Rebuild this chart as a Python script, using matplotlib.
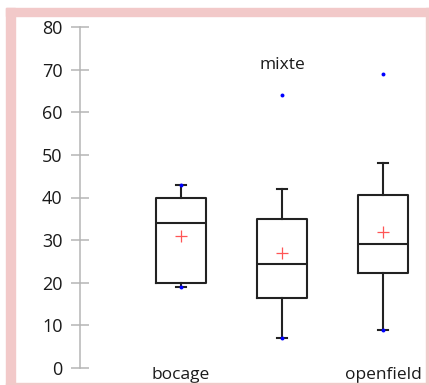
import matplotlib
matplotlib.use("Agg")
import matplotlib.pyplot as plt
from matplotlib.patches import Rectangle

plt.rcParams['font.family'] = ['Open Sans', 'DejaVu Sans']

# data
groups = ['bocage', 'mixte', 'openfield']
q1 = [20, 16.5, 22.3]
med = [34, 24.5, 29]
q3 = [40, 35, 40.5]
whislo = [19, 7, 9]
whishi = [43, 42, 48]
means = [31, 27, 32]
mins = [19, 7, 9]
maxs = [43, 64, 69]
label_y = [-1.7, 71.2, -1.7]

fig = plt.figure(figsize=(4.29, 3.85), dpi=100)
ax = fig.add_axes([80 / 429, 17 / 385, 349 / 429, 341 / 385])

stats = []
for i in range(len(groups)):
    stats.append(dict(label=groups[i], q1=q1[i], med=med[i], q3=q3[i],
                      whislo=whislo[i], whishi=whishi[i], fliers=[]))

pos = [1, 2, 3]
lc = '#222222'
ax.bxp(stats, positions=pos, widths=0.5, capwidths=0.09, showfliers=False,
       boxprops=dict(color=lc, linewidth=1.5),
       whiskerprops=dict(color=lc, linewidth=1.5),
       capprops=dict(color=lc, linewidth=1.5),
       medianprops=dict(color=lc, linewidth=1.5))

# min / max points in blue, means as red crosses
ax.scatter(pos, mins, s=8, color='#0000ff', zorder=4, linewidths=0)
ax.scatter(pos, maxs, s=8, color='#0000ff', zorder=4, linewidths=0)
ax.scatter(pos, means, marker='+', s=80, color='#ff5555', linewidths=0.9, zorder=4)

for i, g in enumerate(groups):
    ax.text(pos[i], label_y[i], g, ha='center', va='center', fontsize=12.5,
            color='#1a1a1a', clip_on=False)

ax.set_xlim(0, 3.455)
ax.set_ylim(0, 80)
ax.set_yticks(range(0, 81, 10))
ax.set_xticks([])
for s in ['top', 'right', 'bottom']:
    ax.spines[s].set_visible(False)
ax.spines['left'].set_color('#b5b5b5')
ax.spines['left'].set_linewidth(1.1)
ax.tick_params(axis='y', direction='inout', length=13, width=1.1, color='#b5b5b5',
               labelsize=13, labelcolor='#1a1a1a', pad=6)

# pink frame around the picture
pink = '#f2c9c9'
fig.patches.append(Rectangle((6 / 429, 369 / 385), 423 / 429, 8 / 385,
                             transform=fig.transFigure, color=pink, zorder=0))
fig.patches.append(Rectangle((6 / 429, 0), 9 / 429, 377 / 385,
                             transform=fig.transFigure, color=pink, zorder=0))
fig.patches.append(Rectangle((426 / 429, 0), 3 / 429, 377 / 385,
                             transform=fig.transFigure, color=pink, zorder=0))
fig.patches.append(Rectangle((6 / 429, 0), 423 / 429, 2 / 385,
                             transform=fig.transFigure, color=pink, zorder=0))

fig.savefig('out.png', dpi=100)
